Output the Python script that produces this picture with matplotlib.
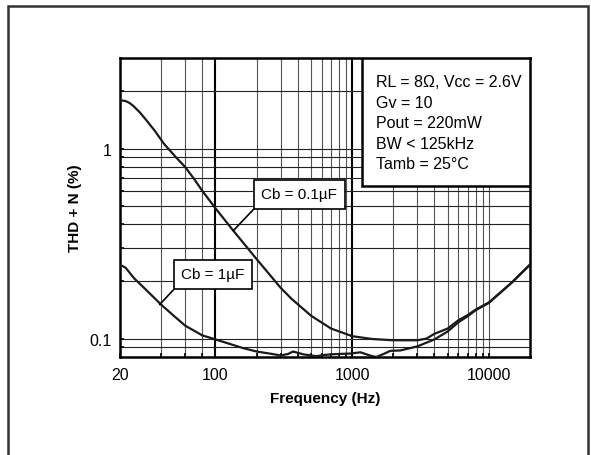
import matplotlib
matplotlib.use('Agg')
import matplotlib.pyplot as plt
from matplotlib.patches import Rectangle
from matplotlib.ticker import FixedLocator, NullFormatter

plt.rcParams['font.family'] = ['Liberation Sans', 'DejaVu Sans']

# Cb = 0.1uF curve
f_01 = [20, 22, 23.5, 25, 28, 32, 36, 42, 50, 60, 70, 80, 100, 135, 200, 300, 360,
        500, 700, 1000, 1400, 2000, 3000, 3500, 4000, 5000, 6000, 7000, 8000,
        10000, 14700, 20000]
thd_01 = [1.80, 1.78, 1.74, 1.68, 1.55, 1.38, 1.24, 1.06, 0.92, 0.80, 0.69, 0.60,
          0.485, 0.37, 0.262, 0.185, 0.162, 0.132, 0.113, 0.103, 0.0995, 0.098,
          0.098, 0.100, 0.106, 0.113, 0.125, 0.133, 0.142, 0.155, 0.197, 0.245]

# Cb = 1uF curve
f_1 = [20, 22, 25.5, 30, 40, 50, 60, 80, 100, 160, 200, 260, 300, 340, 370, 440,
       500, 550, 620, 700, 800, 970, 1150, 1360, 1500, 1700, 1900, 2250, 3000,
       4000, 5000, 6000, 7000, 8000, 10000, 14700, 20000]
thd_1 = [0.245, 0.236, 0.207, 0.185, 0.151, 0.131, 0.117, 0.104, 0.099, 0.089,
         0.0855, 0.083, 0.0815, 0.083, 0.0855, 0.0826, 0.0815, 0.0808, 0.082,
         0.0826, 0.083, 0.0834, 0.0847, 0.0813, 0.080, 0.083, 0.0862, 0.0866,
         0.091, 0.099, 0.109, 0.122, 0.131, 0.141, 0.154, 0.197, 0.245]

x_major = [20, 100, 1000, 10000]
x_minor = [40, 60, 80] + list(range(200, 1000, 100)) + list(range(2000, 10000, 1000))
y_major = [0.1, 1]
y_minor = [0.09, 0.2, 0.3, 0.4, 0.5, 0.6, 0.7, 0.8, 0.9, 2]

info = "RL = 8\u03a9, Vcc = 2.6V\nGv = 10\nPout = 220mW\nBW < 125kHz\nTamb = 25\u00b0C"

fig = plt.figure(figsize=(5.91, 4.56), dpi=100)
ax = fig.add_axes([0.203, 0.2149, 0.6937, 0.6557])

ax.plot(f_01, thd_01, color='#1a1a1a', lw=1.6, zorder=4)
ax.plot(f_1, thd_1, color='#1a1a1a', lw=1.6, zorder=4)

ax.set_xscale('log')
ax.set_yscale('log')
ax.set_xlim(20, 20000)
ax.set_ylim(0.08, 3)

ax.xaxis.set_major_locator(FixedLocator(x_major))
ax.xaxis.set_minor_locator(FixedLocator(x_minor))
ax.yaxis.set_major_locator(FixedLocator(y_major))
ax.yaxis.set_minor_locator(FixedLocator(y_minor))
ax.set_xticklabels(['20', '100', '1000', '10000'])
ax.set_yticklabels(['0.1', '1'])
ax.xaxis.set_minor_formatter(NullFormatter())
ax.yaxis.set_minor_formatter(NullFormatter())

ax.grid(which='major', axis='x', color='black', lw=1.5)
ax.grid(which='minor', axis='x', color='#555555', lw=0.8)
ax.grid(which='both', axis='y', color='#222222', lw=0.8)
for t in ax.xaxis.get_major_ticks():
    if t.get_loc() in (20, 10000):
        t.gridline.set_linewidth(0.8)
        t.gridline.set_color('#555555')
ax.set_axisbelow(True)

ax.tick_params(which='both', direction='in', length=3, width=1.2, colors='black',
               labelsize=11.5, top=False, right=False)
ax.tick_params(axis='x', pad=7)
ax.tick_params(axis='y', pad=6)
for s in ax.spines.values():
    s.set_linewidth(1.8)

ax.set_xlabel('Frequency (Hz)', fontsize=11, fontweight='bold', labelpad=7)
ax.set_ylabel('THD + N (%)', fontsize=11, fontweight='bold', labelpad=5)

# conditions box in the top right corner
ax.add_patch(Rectangle((0.59, 0.572), 0.41, 0.428, transform=ax.transAxes,
                       facecolor='white', edgecolor='black', lw=1.8, zorder=5))
ax.text(0.624, 0.945, info, transform=ax.transAxes, ha='left', va='top',
        fontsize=11.5, linespacing=1.45, zorder=6)

box = dict(boxstyle='square,pad=0.5', fc='white', ec='black', lw=1.2)
ax.annotate('Cb = 0.1\u00b5F', xy=(135, 0.37), xytext=(410, 0.576),
            ha='center', va='center', fontsize=11, bbox=box, zorder=6,
            arrowprops=dict(arrowstyle='-', relpos=(0, 0), color='black', lw=1.2,
                            shrinkA=0, shrinkB=0))
ax.annotate('Cb = 1\u00b5F', xy=(39, 0.151), xytext=(96, 0.218),
            ha='center', va='center', fontsize=11, bbox=box, zorder=6,
            arrowprops=dict(arrowstyle='-', relpos=(0, 0), color='black', lw=1.2,
                            shrinkA=0, shrinkB=0))

# outer frame of the figure
fig.add_artist(Rectangle((7.5 / 591, -0.05), 580 / 591, 1.034, transform=fig.transFigure,
                         fill=False, edgecolor='#333333', lw=1.8, clip_on=False))

fig.savefig('out.png', dpi=100)
